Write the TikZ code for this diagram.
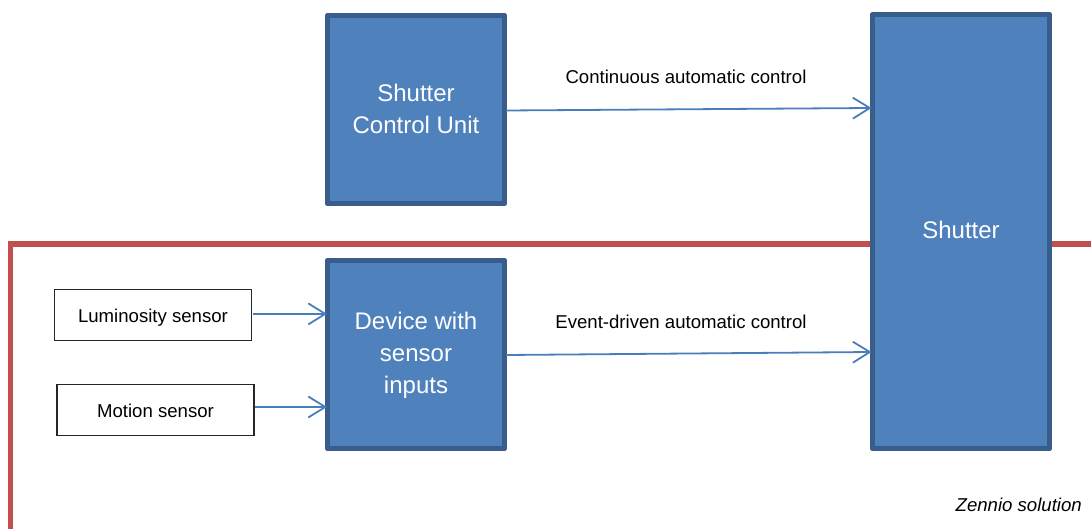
\documentclass[tikz,border=0pt]{standalone}
\usepackage{fontspec}
\setmainfont{Liberation Sans}
\usetikzlibrary{arrows.meta}
\definecolor{boxfill}{HTML}{4F81BD}
\definecolor{boxedge}{HTML}{385D8A}
\definecolor{zoneline}{HTML}{C0504D}
\definecolor{arrowline}{HTML}{4A7EBB}
\tikzset{
  blockbox/.style={draw=boxedge,fill=boxfill,line width=5pt,line join=round,outer sep=0pt,inner sep=0pt,
    text=white,align=center,font=\fontsize{24}{32}\selectfont,minimum width=177.5pt},
  sensorbox/.style={draw=black!85,fill=white,line width=1.4pt,outer sep=0pt,inner sep=0pt,
    font=\fontsize{18.6}{22}\selectfont,minimum width=197pt,minimum height=51.5pt,
    text height=15.4pt,text depth=0pt},
  flowarrow/.style={draw=arrowline,line width=1.8pt,-{Straight Barb[length=17pt,width=21pt,line width=1.8pt]}},
  caption/.style={inner sep=0pt,font=\fontsize{18.6}{22}\selectfont}
}
\begin{document}
\begin{tikzpicture}[x=1pt,y=-1pt]
\useasboundingbox (0,0) rectangle (1091,529);
\coordinate (zoneA) at (10.8,529);
\coordinate (zoneB) at (10.8,244);
\coordinate (zoneC) at (1091,244);
\draw[draw=zoneline,line width=5pt,line join=miter] (zoneA) -- (zoneB) -- (zoneC);
\node[blockbox,minimum height=188pt] (ctrl) at (416,109.5) {Shutter\\Control Unit\rule[-2pt]{0pt}{0pt}};
\node[blockbox,minimum height=188pt] (dev) at (416,354.5) {\rule{0pt}{19.5pt}Device with\\sensor\\inputs};
\node[blockbox,minimum height=434pt] (shut) at (961,231.5) {};
\node[inner sep=0pt,text=white,font=\fontsize{24}{32}\selectfont] (shuttxt) at (961,230) {Shutter};
\node[sensorbox] (lum) at (153,315) {Luminosity sensor};
\node[sensorbox] (mot) at (155.5,410) {Motion sensor};
\coordinate (in1) at (871.5,108);
\coordinate (in2) at (871.5,352);
\coordinate (dev1) at (327,313.9);
\coordinate (dev2) at (327,407);
\coordinate (out1) at (506,110.5);
\coordinate (out2) at (506,355);
\coordinate (lumout) at (253,313.9);
\coordinate (motout) at (254.5,407);
\draw[flowarrow] (out1) -- (in1);
\draw[flowarrow] (out2) -- (in2);
\draw[flowarrow] (lumout) -- (dev1);
\draw[flowarrow] (motout) -- (dev2);
\node[caption] (capA) at (686,77) {Continuous automatic control};
\node[caption] (capB) at (681,322) {Event-driven automatic control};
\node[caption,anchor=east,font=\fontsize{18.6}{22}\selectfont\itshape] (capC) at (1082,505) {Zennio solution};
\end{tikzpicture}
\end{document}
